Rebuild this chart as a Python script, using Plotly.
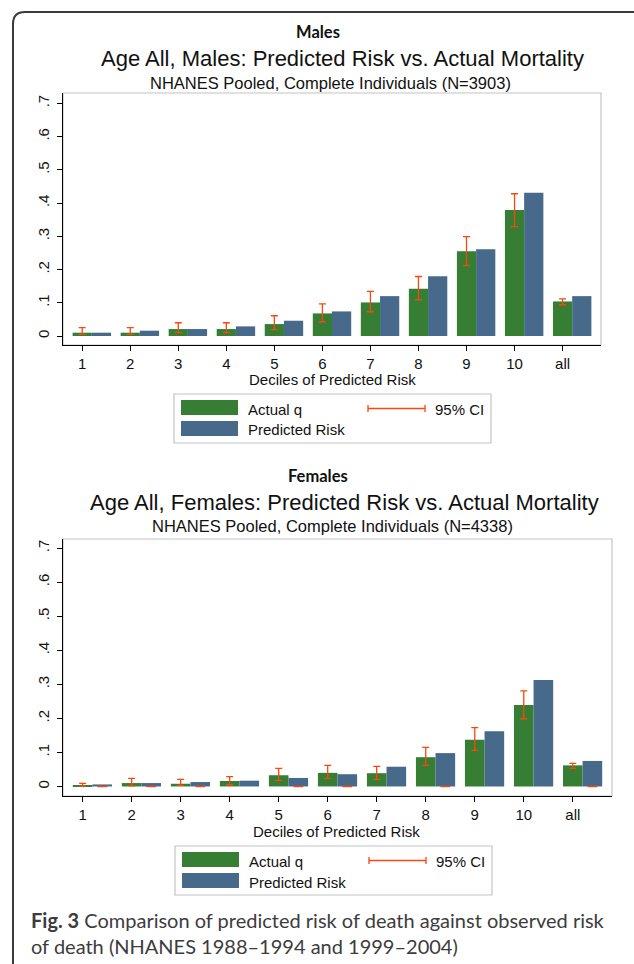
import plotly.graph_objects as go

# ---------------- data ----------------
categories = ["1", "2", "3", "4", "5", "6", "7", "8", "9", "10", "all"]

male_actual = [0.010, 0.010, 0.021, 0.021, 0.036, 0.068, 0.101, 0.142, 0.255, 0.379, 0.104]
male_pred = [0.010, 0.016, 0.021, 0.029, 0.046, 0.074, 0.120, 0.180, 0.261, 0.431, 0.120]
male_ci_low = [0.005, 0.005, 0.010, 0.010, 0.019, 0.043, 0.073, 0.109, 0.212, 0.329, 0.094]
male_ci_high = [0.025, 0.025, 0.040, 0.040, 0.061, 0.097, 0.134, 0.179, 0.299, 0.428, 0.112]

female_actual = [0.003, 0.010, 0.008, 0.016, 0.033, 0.040, 0.039, 0.086, 0.137, 0.239, 0.062]
female_pred = [0.006, 0.010, 0.013, 0.017, 0.025, 0.036, 0.058, 0.098, 0.162, 0.313, 0.075]
female_ci_low = [0.000, 0.002, 0.003, 0.005, 0.018, 0.024, 0.021, 0.062, 0.106, 0.199, 0.053]
female_ci_high = [0.009, 0.024, 0.021, 0.029, 0.053, 0.062, 0.059, 0.115, 0.173, 0.281, 0.068]
# deciles where a zero-width CI cap is visible at 0 under the predicted bar
female_zero_caps = ["1", "2", "3", "5", "6", "8", "all"]

y_tick_vals = [0, 0.1, 0.2, 0.3, 0.4, 0.5, 0.6, 0.7]
y_tick_text = ["0", ".1", ".2", ".3", ".4", ".5", ".6", ".7"]

# ---------------- style ----------------
W, H = 634, 964
GREEN = "#367e33"
BLUE = "#476a8b"
CI = "#f9470f"
FONT = "Liberation Sans"
CAPFONT = "Lato"


def px(x):
    return x / W


def py(y):
    return 1 - y / H


fig = go.Figure()

positions = list(range(1, len(categories) + 1))
pos_of = dict(zip(categories, positions))


def add_panel(xr, yr, actual, pred, lo, hi, zero_caps):
    fig.add_trace(go.Bar(x=positions, y=actual, width=0.4, offset=-0.2,
                         marker=dict(color=GREEN, line=dict(width=0)),
                         xaxis=xr, yaxis=yr, showlegend=False, hoverinfo="skip"))
    fig.add_trace(go.Bar(x=positions, y=pred, width=0.4, offset=0.2,
                         marker=dict(color=BLUE, line=dict(width=0)),
                         xaxis=xr, yaxis=yr, showlegend=False, hoverinfo="skip"))
    fig.add_trace(go.Scatter(
        x=positions, y=actual, mode="markers", marker=dict(size=0, opacity=0),
        error_y=dict(type="data", symmetric=False,
                     array=[h - a for h, a in zip(hi, actual)],
                     arrayminus=[a - l for a, l in zip(actual, lo)],
                     color=CI, thickness=1.3, width=3.5),
        xaxis=xr, yaxis=yr, showlegend=False, hoverinfo="skip"))
    if zero_caps:
        zx = [pos_of[c] + 0.4 for c in zero_caps]
        fig.add_trace(go.Scatter(
            x=zx, y=[0] * len(zx), mode="markers",
            marker=dict(symbol="line-ew-open", size=7, color=CI,
                        line=dict(color=CI, width=1.5)),
            xaxis=xr, yaxis=yr, showlegend=False, hoverinfo="skip"))


add_panel("x", "y", male_actual, male_pred, male_ci_low, male_ci_high, [])
add_panel("x2", "y2", female_actual, female_pred, female_ci_low, female_ci_high,
          female_zero_caps)

axis_common_x = dict(range=[0.6, 11.8], tickvals=positions, ticktext=categories,
                     showline=True, linecolor="black", linewidth=1.3,
                     ticks="outside", ticklen=5, tickcolor="black", tickwidth=1.2,
                     showgrid=False, zeroline=False,
                     tickfont=dict(family=FONT, size=15, color="#111"))
axis_common_y = dict(tickvals=y_tick_vals, ticktext=y_tick_text, tickangle=-90,
                     showline=True, linecolor="black", linewidth=1.3,
                     ticks="outside", ticklen=5, tickcolor="black", tickwidth=1.2,
                     showgrid=False, zeroline=False, ticklabelstandoff=2,
                     tickfont=dict(family=FONT, size=15, color="#111"))

fig.update_layout(
    width=W, height=H, margin=dict(l=0, r=0, t=0, b=0),
    paper_bgcolor="white", plot_bgcolor="white",
    barmode="overlay", showlegend=False,
    xaxis=dict(domain=[px(63), px(601)], anchor="y", **axis_common_x),
    yaxis=dict(domain=[py(345), py(93)], anchor="x", range=[-0.027, 0.731], **axis_common_y),
    xaxis2=dict(domain=[px(63), px(612)], anchor="y2", **axis_common_x),
    yaxis2=dict(domain=[py(796), py(539)], anchor="x2", range=[-0.028, 0.727], **axis_common_y),
)

shapes = []
# light gray plot frames (top/right)
for xr, yr in (("x", "y"), ("x2", "y2")):
    shapes.append(dict(type="rect", xref=xr + " domain", yref=yr + " domain",
                       x0=0, x1=1, y0=0, y1=1, line=dict(color="#c4c4c4", width=1.2),
                       layer="below"))

# outer rounded frame (left + top edges visible)
fx, fy, r = 13, 12, 12
path = (f"M {px(fx)},{py(H + 5)} L {px(fx)},{py(fy + r)} "
        f"Q {px(fx)},{py(fy)} {px(fx + r)},{py(fy)} L {px(W + 5)},{py(fy)}")
shapes.append(dict(type="path", xref="paper", yref="paper", path=path,
                   line=dict(color="#3a3a3a", width=2)))

annotations = []


def text(x, y, s, size, family=FONT, xanchor="center", color="#111", bold=False):
    annotations.append(dict(x=px(x), y=py(y), xref="paper", yref="paper",
                            text=f"<b>{s}</b>" if bold else s, showarrow=False,
                            xanchor=xanchor, yanchor="middle",
                            font=dict(family=family, size=size, color=color)))


def legend(x0, y0):
    shapes.append(dict(type="rect", xref="paper", yref="paper",
                       x0=px(x0), x1=px(x0 + 317), y0=py(y0 + 49), y1=py(y0),
                       line=dict(color="#c4c4c4", width=1.2), fillcolor="white"))
    shapes.append(dict(type="rect", xref="paper", yref="paper",
                       x0=px(x0 + 7), x1=px(x0 + 64), y0=py(y0 + 21), y1=py(y0 + 6),
                       line=dict(width=0), fillcolor=GREEN))
    shapes.append(dict(type="rect", xref="paper", yref="paper",
                       x0=px(x0 + 7), x1=px(x0 + 64), y0=py(y0 + 42), y1=py(y0 + 27),
                       line=dict(width=0), fillcolor=BLUE))
    ly = y0 + 14.5
    shapes.append(dict(type="line", xref="paper", yref="paper",
                       x0=px(x0 + 194), x1=px(x0 + 251), y0=py(ly), y1=py(ly),
                       line=dict(color=CI, width=1.3)))
    for xx in (x0 + 194, x0 + 251):
        shapes.append(dict(type="line", xref="paper", yref="paper",
                           x0=px(xx), x1=px(xx), y0=py(ly - 3.5), y1=py(ly + 3.5),
                           line=dict(color=CI, width=1.3)))
    text(x0 + 72, y0 + 15, "Actual q", 15, xanchor="left")
    text(x0 + 72, y0 + 36, "Predicted Risk", 15, xanchor="left")
    text(x0 + 259, y0 + 15, "95% CI", 15, xanchor="left")


# Males panel texts
text(318, 32, "Males", 16.5, family=CAPFONT, bold=True)
text(342, 58, "Age All, Males: Predicted Risk vs. Actual Mortality", 22)
text(330, 83, "NHANES Pooled, Complete Individuals (N=3903)", 16.5)
text(332, 380, "Deciles of Predicted Risk", 15)
legend(174, 394)

# Females panel texts
text(318, 476, "Females", 16.5, family=CAPFONT, bold=True)
text(344, 502, "Age All, Females: Predicted Risk vs. Actual Mortality", 22)
text(333, 526, "NHANES Pooled, Complete Individuals (N=4338)", 16.5)
text(336, 831, "Deciles of Predicted Risk", 15)
legend(175, 846)

# caption
annotations.append(dict(
    x=px(29), y=py(906), xref="paper", yref="paper", xanchor="left", yanchor="top",
    align="left", showarrow=False,
    text="<b>Fig. 3</b> Comparison of predicted risk of death against observed risk"
         "<br>of death (NHANES 1988\u20131994 and 1999\u20132004)",
    font=dict(family=CAPFONT, size=20, color="#3c3c3c")))

fig.update_layout(shapes=shapes, annotations=annotations)

fig.write_html("out.html", config={"displayModeBar": False},
               post_script="document.body.style.margin='0';document.body.style.overflow='hidden';")
